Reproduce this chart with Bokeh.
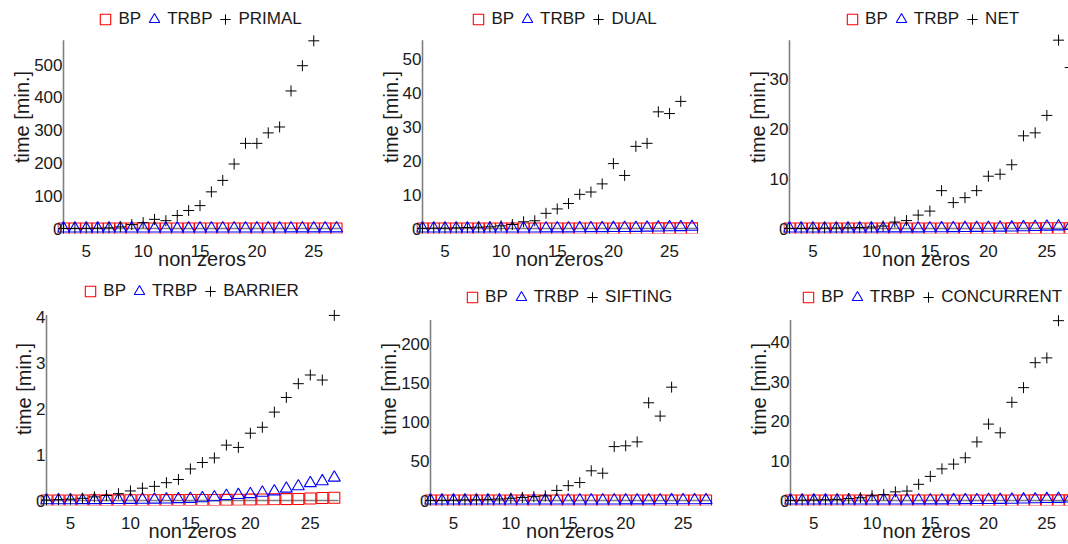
from bokeh.plotting import figure
from bokeh.layouts import column, row
from bokeh.models import Range1d, FixedTicker, Legend, LegendItem
from bokeh.embed import file_html
from bokeh.resources import INLINE

# ---------------- data (minutes) ----------------
nonzeros = list(range(3, 28))
bp = [0.002, 0.002, 0.003, 0.003, 0.004, 0.005, 0.005, 0.006, 0.007, 0.008,
      0.009, 0.010, 0.011, 0.012, 0.013, 0.015, 0.017, 0.020, 0.022, 0.030,
      0.032, 0.035, 0.045, 0.055, 0.060]
trbp = [0.005, 0.006, 0.007, 0.008, 0.009, 0.010, 0.012, 0.014, 0.017, 0.020,
        0.024, 0.030, 0.037, 0.050, 0.070, 0.100, 0.120, 0.140, 0.170, 0.200,
        0.260, 0.310, 0.380, 0.420, 0.500]
primal = [0.1, 0.2, 0.4, 1, 2, 5, 12, 18, 28, 24, 40, 55, 70, 112, 147, 197,
          260, 260, 292, 310, 420, 497, 573]
dual = [0.05, 0.1, 0.1, 0.2, 0.3, 0.4, 0.5, 0.8, 1.2, 2.0, 2.3, 4.5, 5.8, 7.4,
        10.1, 10.8, 13.2, 19.2, 15.7, 24.3, 25.2, 34.5, 34.0, 37.6]
net = [0.02, 0.03, 0.05, 0.08, 0.1, 0.15, 0.2, 0.3, 0.5, 1.3, 1.6, 2.7, 3.5,
       7.6, 5.2, 6.2, 7.6, 10.5, 10.9, 12.8, 18.6, 19.2, 22.7, 37.8, 32.3]
barrier = [0.01, 0.02, 0.03, 0.05, 0.08, 0.11, 0.15, 0.21, 0.27, 0.31, 0.39,
           0.46, 0.69, 0.83, 0.93, 1.21, 1.16, 1.47, 1.6, 1.93, 2.25, 2.55,
           2.74, 2.63, 4.04]
sifting = [0.2, 0.3, 0.5, 0.8, 1, 1.5, 2, 3, 4, 5, 6, 13, 19, 23, 38, 35, 69,
           70, 75, 125, 108, 145]
concurrent = [0.05, 0.1, 0.15, 0.2, 0.3, 0.5, 0.7, 1.2, 1.5, 2.2, 2.4, 4.1,
              6.1, 8.0, 9.2, 10.8, 14.8, 19.3, 17.1, 24.8, 28.5, 34.8, 36.0, 45.4]

solver_names = ["PRIMAL", "DUAL", "NET", "BARRIER", "SIFTING", "CONCURRENT"]
solver_series = [primal, dual, net, barrier, sifting, concurrent]
y_limits = [575, 55.7, 37.8, 4.05, 231, 45.6]
y_tick_sets = [[0, 100, 200, 300, 400, 500], [0, 10, 20, 30, 40, 50],
               [0, 10, 20, 30], [0, 1, 2, 3, 4], [0, 50, 100, 150, 200],
               [0, 10, 20, 30, 40]]
x_ticks = [5, 10, 15, 20, 25]
x_limits = [27.35, 27.4, 26.85, 27.35, 27.3, 26.86]

# ---------------- layout geometry (px inside each figure) ----------------
FONT = "Liberation Sans"
TEXT = "#1a1a1a"
AXIS = "#808080"
PAD = 6      # room for markers left of / above / right of the data box
PAD_B = 5    # room for markers below y = 0
FIG_W = [360, 360, 348]
FIG_H = 272
# (px of x=3, px of x_end, px of y_max, px of y=0, right padding)
GEOM = [
    (63, 340, 40, 230, PAD),
    (62, 336, 40, 230, PAD),
    (69, 348, 40, 230, 0),
    (46, 338, 43, 231, PAD),
    (70, 349, 48, 231, PAD),
    (70, 348, 48, 231, 0),
]
LEGEND_CX = [201, 205, 213, 192, 209.5, 212.5]   # visual centre of each legend
LEGEND_CY = [21, 21, 21, 22, 28, 28]
LEG_FONT = 17
GLYPH = 26
MARK = GLYPH * 0.4
STANDOFF = 0
SPACING = 0
# Arial / Liberation Sans advance widths (em)
CHAR_W = {"B": .667, "P": .667, "T": .611, "R": .722, "I": .278, "M": .833,
          "A": .667, "L": .556, "D": .722, "U": .722, "N": .722, "E": .667,
          "S": .667, "F": .611, "G": .778, "C": .722, "O": .778}


def text_width(s, size):
    return sum(CHAR_W.get(c, 0.6) for c in s) * size


def make_panel(i):
    fw = FIG_W[i % 3]
    xl, xr, yt, yb, rpad = GEOM[i]
    xmax = x_limits[i]
    ymax = y_limits[i]
    sx = (xr - xl) / (xmax - nonzeros[0])
    sy = (yb - yt) / ymax
    # the frame reaches the top of the figure so the legend above the axes is not clipped
    p = figure(width=fw, height=FIG_H,
               x_range=Range1d(nonzeros[0] - PAD / sx, xmax + rpad / sx),
               y_range=Range1d(-PAD_B / sy, ymax + yt / sy),
               min_border_left=xl - PAD, min_border_right=fw - xr - rpad,
               min_border_top=0, min_border_bottom=FIG_H - yb - PAD_B,
               output_backend="svg", toolbar_location=None)
    p.outline_line_color = None
    p.xgrid.visible = False
    p.ygrid.visible = False
    p.background_fill_color = "white"
    p.border_fill_color = "white"

    # axis lines at the data origin
    p.segment(x0=[nonzeros[0], nonzeros[0]], y0=[0, 0],
              x1=[nonzeros[0], xmax], y1=[ymax, 0],
              line_color=AXIS, line_width=1.6)

    vals = solver_series[i]
    r_bp = p.scatter(nonzeros, bp, marker="square", size=11,
                     line_color="#ff0000", fill_color=None, line_width=1.1)
    r_tr = p.scatter(nonzeros, trbp, marker="triangle", size=12,
                     line_color="#0000ff", fill_color=None, line_width=1.1)
    r_so = p.scatter(nonzeros[:len(vals)], vals, marker="cross", size=11,
                     line_color="#000000", line_width=1)

    labels = ["BP", "TRBP", solver_names[i]]
    leg_w = sum(GLYPH + STANDOFF + text_width(s, LEG_FONT) for s in labels) \
        + SPACING * (len(labels) - 1)
    blank = (GLYPH - MARK) / 2
    frame_h = yb + PAD_B
    vx = LEGEND_CX[i] - (xl - PAD) - blank - (leg_w - blank) / 2
    vy = frame_h - (LEGEND_CY[i] + GLYPH / 2)
    legend = Legend(items=[LegendItem(label=labels[0], renderers=[r_bp]),
                           LegendItem(label=labels[1], renderers=[r_tr]),
                           LegendItem(label=labels[2], renderers=[r_so])],
                    orientation="horizontal", location=(vx, vy),
                    glyph_width=GLYPH, glyph_height=GLYPH, label_height=GLYPH,
                    label_standoff=STANDOFF, spacing=SPACING, padding=0,
                    margin=0,
                    border_line_color=None, background_fill_alpha=0,
                    label_text_font=FONT,
                    label_text_font_size=f"{LEG_FONT}px",
                    label_text_color=TEXT)
    p.add_layout(legend, "center")

    p.xaxis.ticker = FixedTicker(ticks=x_ticks)
    p.yaxis.ticker = FixedTicker(ticks=y_tick_sets[i])
    p.xaxis.axis_label = "non zeros"
    p.yaxis.axis_label = "time [min.]"
    for ax in (p.xaxis[0], p.yaxis[0]):
        ax.axis_line_color = None
        ax.major_tick_line_color = None
        ax.minor_tick_line_color = None
        ax.major_tick_in = 0
        ax.major_tick_out = 0
        ax.minor_tick_in = 0
        ax.minor_tick_out = 0
        ax.major_label_text_font = FONT
        ax.major_label_text_font_size = "17px"
        ax.major_label_text_color = TEXT
        ax.axis_label_text_font = FONT
        ax.axis_label_text_font_size = "20px"
        ax.axis_label_text_font_style = "normal"
        ax.axis_label_text_color = TEXT
    p.xaxis.major_label_standoff = 11
    p.xaxis.axis_label_standoff = -12
    p.yaxis.major_label_standoff = -5
    p.yaxis.axis_label_standoff = -2
    return p


panels = [make_panel(i) for i in range(6)]
layout = column(row(*panels[:3]), row(*panels[3:]))
open("out.html", "w").write(file_html(layout, INLINE))
